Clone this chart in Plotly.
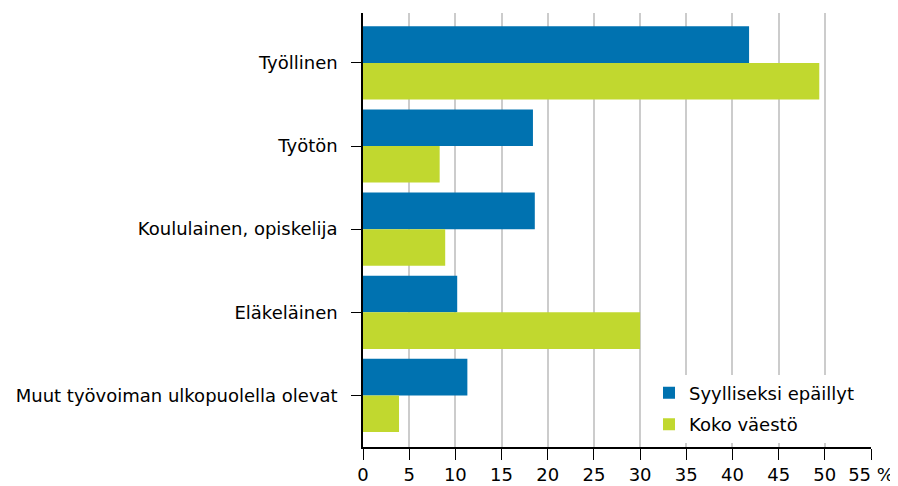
import plotly.graph_objects as go

categories = ["Työllinen", "Työtön", "Koululainen, opiskelija", "Eläkeläinen",
              "Muut työvoiman ulkopuolella olevat"]
suspects = [41.8, 18.4, 18.6, 10.2, 11.3]
population = [49.4, 8.3, 8.9, 30.0, 3.9]
x_ticks = [0, 5, 10, 15, 20, 25, 30, 35, 40, 45, 50, 55]
x_ticktext = ["0", "5", "10", "15", "20", "25", "30", "35", "40", "45", "50", "55 %"]

FONT = "DejaVu Sans"
FS = 18

fig = go.Figure()
fig.add_trace(go.Bar(y=categories, x=suspects, orientation="h", name="Syylliseksi epäillyt",
                     legendgroup="a",
                     marker=dict(color="#0072b0", line=dict(width=0))))
fig.add_trace(go.Bar(y=categories, x=population, orientation="h", name="Koko väestö",
                     legendgroup="b",
                     marker=dict(color="#c1d82f", line=dict(width=0))))

fig.update_layout(
    width=898, height=486,
    margin=dict(l=355, r=35, t=5, b=47),
    barmode="group", bargap=0.12, bargroupgap=0,
    plot_bgcolor="white", paper_bgcolor="white",
    font=dict(family=FONT, size=FS, color="#000000"),
    showlegend=True,
    legend=dict(x=0.563, y=0.01, xanchor="left", yanchor="bottom",
                bgcolor="white", font=dict(family=FONT, size=FS, color="#000"),
                traceorder="grouped", tracegroupgap=5, itemwidth=30),
    xaxis=dict(range=[0, 55], tickvals=x_ticks, ticktext=x_ticktext,
               showgrid=True, gridcolor="#cccccc", gridwidth=2,
               showline=True, linecolor="#000", linewidth=1.5,
               ticks="outside", ticklen=11, tickcolor="#000",
               tickfont=dict(family=FONT, size=FS), zeroline=False, automargin=False),
    yaxis=dict(autorange=False, range=[4.62, -0.6], showline=True, linecolor="#000",
               linewidth=1.5, ticks="outside", ticklen=10, tickcolor="#000",
               ticklabelstandoff=10,
               tickfont=dict(family=FONT, size=FS), showgrid=False, automargin=False),
)

fig.write_html("out.html")
